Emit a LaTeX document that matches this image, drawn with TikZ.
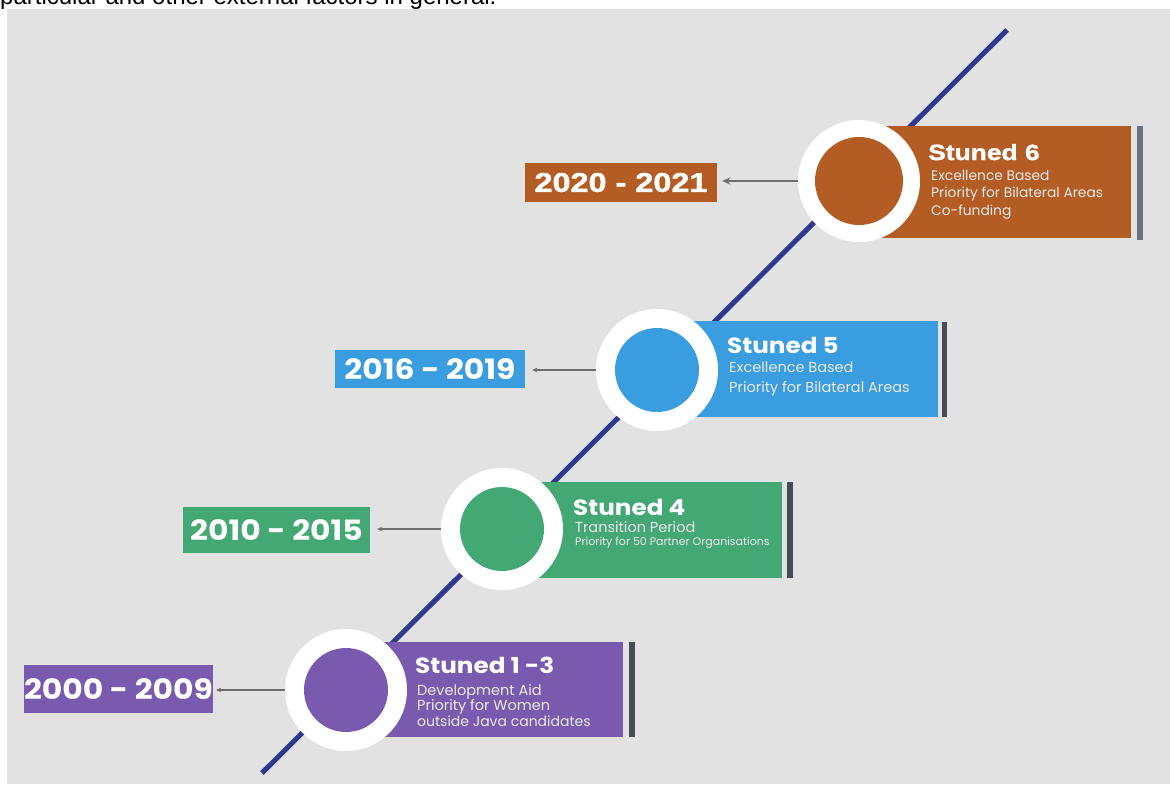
\documentclass[tikz,border=0pt]{standalone}
\usepackage{fontspec}
\setmainfont{Poppins}
\newfontfamily\arialf{Liberation Sans}
\newfontfamily\widepop[FakeStretch=1.12]{Poppins}
\newfontfamily\widearial[FakeStretch=1.2,FakeBold=1.5]{Liberation Sans}
\usetikzlibrary{arrows.meta}
\definecolor{bg}{HTML}{E2E2E2}
\definecolor{lineblue}{HTML}{2D3A8F}
\definecolor{corange}{HTML}{B35C24}
\definecolor{cblue}{HTML}{3A9DE0}
\definecolor{cgreen}{HTML}{44A874}
\definecolor{cpurple}{HTML}{7A5AAE}
\definecolor{barA}{HTML}{6A7280}
\definecolor{barB}{HTML}{474D54}
\definecolor{arrgray}{HTML}{6E6E6E}
\tikzset{
  ring/.style={circle, fill=white, minimum size=122pt, inner sep=0pt},
  dot/.style={circle, minimum size=84pt, inner sep=0pt},
  yearbox/.style={inner sep=0pt, text=white, font=\widepop\bfseries\fontsize{28}{28}\selectfont},
  conn/.style={draw=arrgray, line width=1.3pt, -{Stealth[length=5pt,width=4.5pt]}},
  ttl/.style={anchor=base west, inner sep=0pt, text=white, font=\widepop\bfseries\fontsize{22}{22}\selectfont},
  sub/.style={anchor=base west, inner sep=0pt, text=white!92!black, font=\fontsize{14.5}{14.5}\selectfont},
}
\begin{document}
\begin{tikzpicture}[x=1pt,y=-1pt]
\useasboundingbox (0,0) rectangle (1170,785);
\begin{scope}
\clip (0,0) rectangle (1170,785);
\fill[white] (0,0) rectangle (1170,785);
\node[anchor=base west, inner sep=0pt, font=\arialf\fontsize{24}{24}\selectfont] (toptext) at (0,4) {particular and other external factors in general.};
\fill[bg] (7,9) rectangle (1170,784);
\end{scope}
% timeline
\coordinate (lnA) at (262,773);
\coordinate (lnB) at (1007,30);
\draw[lineblue, line width=5pt] (lnA) -- (lnB);

% ---- Stuned 6
\fill[corange] (860,126) rectangle (1131,238);
\fill[barA] (1137,126) rectangle (1143,240);
\node[yearbox, fill=corange, minimum width=192pt, minimum height=39pt, font=\widearial\bfseries\fontsize{27}{27}\selectfont] (y6) at (621,182.5) {2020 - 2021};
\node[ring] (c6) at (859,181) {};
\node[dot, fill=corange, minimum size=88pt] (d6) at (c6) {};
\draw[conn, line width=1.6pt, -{Stealth[length=8pt,width=7pt]}] (c6.west) -- ([xshift=5pt]c6.west -| y6.east);
\node[ttl, font=\widearial\bfseries\fontsize{22}{22}\selectfont] (t6) at (928,160) {Stuned 6};
\node[sub, font=\fontsize{13.8}{13.8}\selectfont] (t6a) at (931,180) {Excellence Based};
\node[sub, font=\fontsize{13.8}{13.8}\selectfont] (t6b) at (931,197) {Priority for Bilateral Areas};
\node[sub, font=\fontsize{13.8}{13.8}\selectfont] (t6c) at (931,215) {Co-funding};

% ---- Stuned 5
\fill[cblue] (660,321) rectangle (938,417);
\fill[barB] (942,322) rectangle (947,417);
\node[yearbox, fill=cblue, minimum width=190pt, minimum height=38pt] (y5) at (430,369) {2016 - 2019};
\node[ring] (c5) at (657,370) {};
\node[dot, fill=cblue] (d5) at (c5) {};
\draw[conn] (c5.west) -- ([xshift=7pt]c5.west -| y5.east);
\node[ttl] (t5) at (727,353) {Stuned 5};
\node[sub] (t5a) at (729,372) {Excellence Based};
\node[sub] (t5b) at (729,392) {Priority for Bilateral Areas};

% ---- Stuned 4
\fill[cgreen] (505,482) rectangle (782,578);
\fill[barB] (787,482) rectangle (793,578);
\node[yearbox, fill=cgreen, minimum width=187pt, minimum height=46pt] (y4) at (276.5,530) {2010 - 2015};
\node[ring] (c4) at (502,529) {};
\node[dot, fill=cgreen] (d4) at (c4) {};
\draw[conn] (c4.west) -- ([xshift=7pt]c4.west -| y4.east);
\node[ttl] (t4) at (573,515) {Stuned 4};
\node[sub] (t4a) at (575,532) {Transition Period};
\node[sub, font=\fontsize{11}{11}\selectfont] (t4b) at (575,545) {Priority for 50 Partner Organisations};

% ---- Stuned 1-3
\fill[cpurple] (350,642) rectangle (623,737);
\fill[barB] (629,642) rectangle (635,737);
\node[yearbox, fill=cpurple, minimum width=187pt, minimum height=48pt] (y1) at (118.5,689) {2000 - 2009};
\node[ring] (c1) at (346,690) {};
\node[dot, fill=cpurple] (d1) at (c1) {};
\draw[conn] (c1.west) -- ([xshift=3pt]c1.west -| y1.east);
\node[ttl] (t1) at (415,673) {Stuned 1 -3};
\node[sub] (t1a) at (417,695) {Development Aid};
\node[sub] (t1b) at (417,710) {Priority for Women};
\node[sub, font=\fontsize{14}{14}\selectfont] (t1c) at (417,726) {outside Java candidates};
\end{tikzpicture}
\end{document}
